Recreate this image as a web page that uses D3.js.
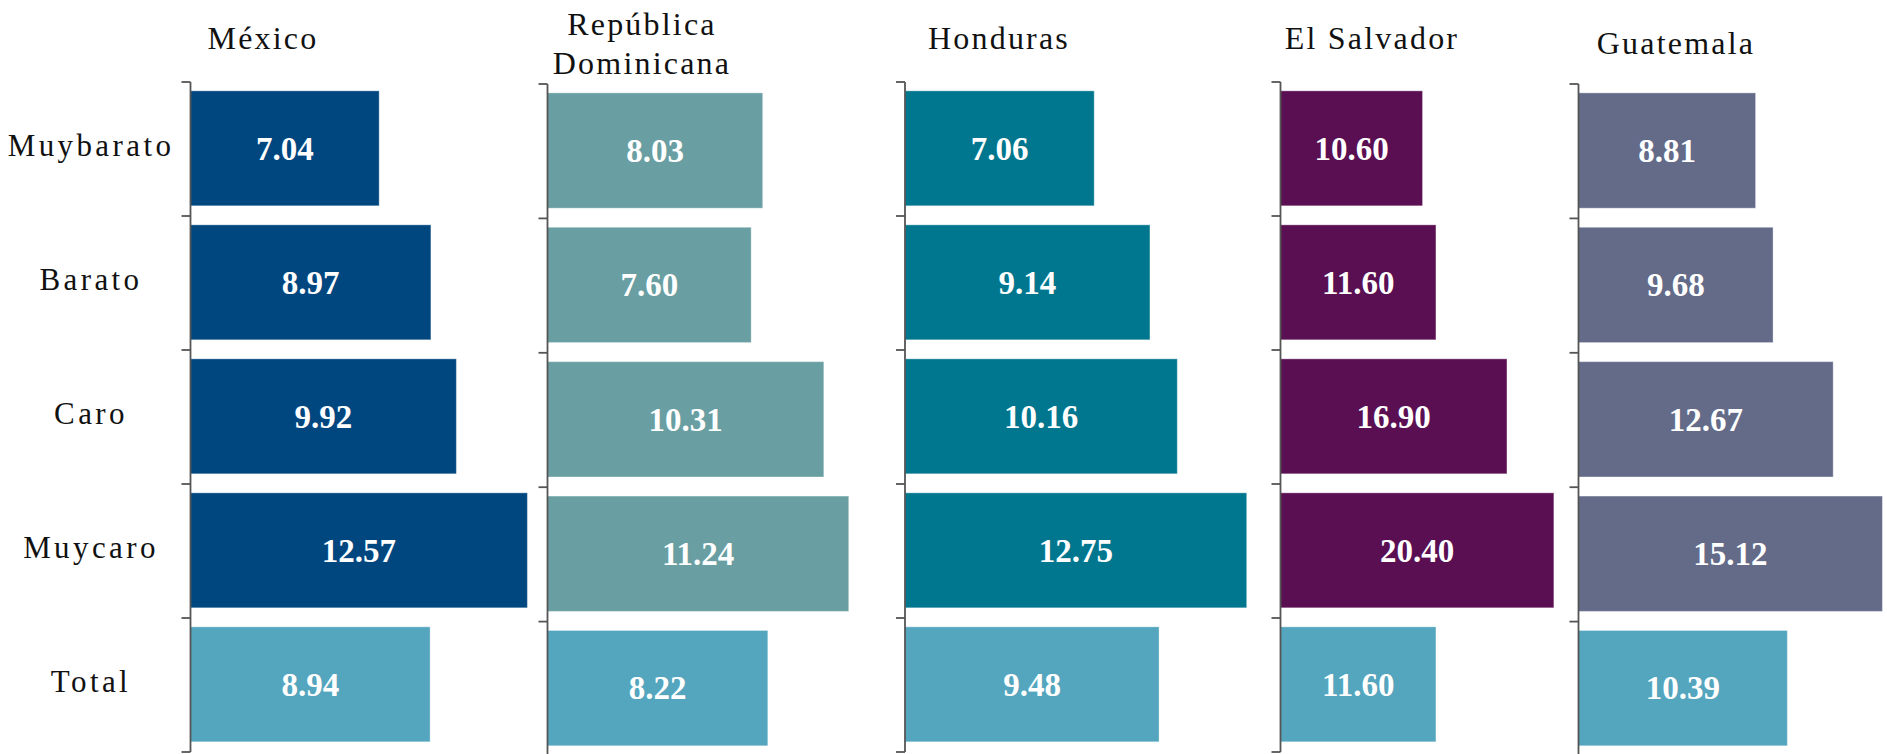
<!DOCTYPE html>
<html>
<head>
<meta charset="utf-8">
<script src="https://cdn.jsdelivr.net/npm/d3@7"></script>
<style>
  body { margin: 0; background: #fff; }
  svg { display: block; }
</style>
</head>
<body>
<svg width="1887" height="754"></svg>
<script>
// data
const categories = ["Muybarato", "Barato", "Caro", "Muycaro", "Total"];
const countries = ["México", "República Dominicana", "Honduras", "El Salvador", "Guatemala"];
const mexico = [7.04, 8.97, 9.92, 12.57, 8.94];
const repDominicana = [8.03, 7.6, 10.31, 11.24, 8.22];
const honduras = [7.06, 9.14, 10.16, 12.75, 9.48];
const elSalvador = [10.6, 11.6, 16.9, 20.4, 11.6];
const guatemala = [8.81, 9.68, 12.67, 15.12, 10.39];
const axisMax = [15, 15, 15, 30, 20];

const seriesValues = [mexico, repDominicana, honduras, elSalvador, guatemala];
const countryColors = ["#00467f", "#699ea2", "#00778f", "#5a0f53", "#636b89"];
const totalColor = "#54a5be";

// layout of the five small panels
const panelX = [190.5, 547.5, 905, 1280.5, 1578.5];
const panelY = [[82, 752], [84, 756], [82, 752], [82, 752], [84, 756]];
const titleX = [263, 642, 999, 1372, 1676];
const titleY = [49, 35, 49, 49, 54];
const plotWidth = 402;

let svg = d3.select("svg");
let fmt = d3.format(".2f");
let serif = "'Liberation Serif', 'Times New Roman', serif";

countries.forEach((country, i) => {
  let values = seriesValues[i];
  let rows = categories.map((c, j) => ({ cat: c, value: values[j] }));

  let x = d3.scaleLinear().domain([0, axisMax[i]]).range([0, plotWidth]);
  let y = d3.scaleBand().domain(categories).range(panelY[i]).padding(0);
  let step = y.bandwidth();

  let g = svg.append("g").attr("transform", `translate(${panelX[i]},0)`);

  // bars
  g.selectAll(".bar")
    .data(rows)
    .join("rect")
    .attr("class", "bar")
    .attr("x", 0)
    .attr("y", (d) => y(d.cat) + step * 0.066)
    .attr("width", (d) => x(d.value))
    .attr("height", step * 0.858)
    .style("fill", (d) => (d.cat == "Total" ? totalColor : countryColors[i]))
    .style("stroke", "rgba(255,255,255,0.35)")
    .style("stroke-width", 1);

  // value labels
  g.selectAll(".val")
    .data(rows)
    .join("text")
    .attr("class", "val")
    .attr("x", (d) => x(d.value) / 2)
    .attr("y", (d) => y(d.cat) + step * 0.066 + (step * 0.858) / 2)
    .attr("dy", "0.34em")
    .attr("text-anchor", "middle")
    .style("font-family", serif)
    .style("font-weight", "bold")
    .style("font-size", "33px")
    .style("fill", "#fff")
    .text((d) => fmt(d.value));

  // axis line with ticks at band boundaries
  let bounds = categories.map((c) => y(c)).concat([panelY[i][1]]);
  g.append("line")
    .attr("x1", 0)
    .attr("x2", 0)
    .attr("y1", panelY[i][0])
    .attr("y2", panelY[i][1])
    .style("stroke", "#555")
    .style("stroke-width", 1.8);
  g.selectAll(".tick")
    .data(bounds)
    .join("line")
    .attr("class", "tick")
    .attr("x1", -9)
    .attr("x2", 0)
    .attr("y1", (d) => d)
    .attr("y2", (d) => d)
    .style("stroke", "#555")
    .style("stroke-width", 1.8);

  // country title
  let words = country == "República Dominicana" ? ["República", "Dominicana"] : [country];
  let t = svg.append("text")
    .attr("x", titleX[i])
    .attr("y", titleY[i])
    .attr("text-anchor", "middle")
    .style("font-family", serif)
    .style("font-size", "32px")
    .style("letter-spacing", "2.2px")
    .style("fill", "#111");
  words.forEach((w, k) => {
    t.append("tspan")
      .attr("x", titleX[i])
      .attr("dy", k == 0 ? 0 : 39)
      .text(w);
  });

  // category labels only on the first panel
  if (i == 0) {
    svg.selectAll(".cat")
      .data(categories)
      .join("text")
      .attr("class", "cat")
      .attr("x", 91)
      .attr("y", (d) => y(d) + step / 2 - 4)
      .attr("dy", "0.34em")
      .attr("text-anchor", "middle")
      .style("font-family", serif)
      .style("font-size", "31px")
      .style("letter-spacing", "3.4px")
      .style("fill", "#111")
      .text((d) => d);
  }
});
</script>
</body>
</html>
